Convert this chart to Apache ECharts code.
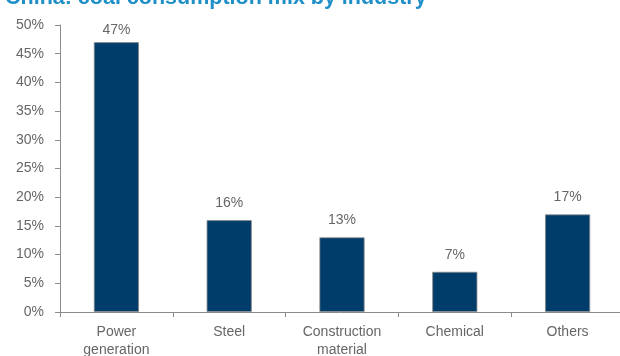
<!DOCTYPE html>
<html>
<head>
<meta charset="utf-8">
<script src="https://cdn.jsdelivr.net/npm/echarts@6/dist/echarts.min.js"></script>
<style>
  html, body { margin: 0; padding: 0; background: #fff; }
  #chart { width: 620px; height: 356px; }
</style>
</head>
<body>
<div id="chart"></div>
<script>
// Share of China's coal consumption by end-use industry (%)
const titleText = 'China: coal consumption mix by industry';
const categories = ['Power\ngeneration', 'Steel', 'Construction\nmaterial', 'Chemical', 'Others'];
const shares = [47, 16, 13, 7, 17];
const yMax = 50;
const yStep = 5;

const font = '"Liberation Sans Narrow", "Arial Narrow", "Liberation Sans", Arial, sans-serif';
const textGrey = '#666666';
const axisGrey = '#8c8c8c';

// the tallest bar sits right under the top of the plot, so its label hugs it
const barData = shares.map((v, i) => (i === 0 ? { value: v, label: { distance: 5 } } : v));

const chart = echarts.init(document.getElementById('chart'), null, { renderer: 'canvas' });
chart.setOption({
  animation: false,
  title: {
    text: titleText,
    left: 0,
    top: -18,
    textStyle: { color: '#1f8fc8', fontSize: 21.5, fontWeight: 'bold', fontFamily: 'Arial, "Liberation Sans", sans-serif' }
  },
  grid: { left: 60, right: -4, top: 25, bottom: 44, containLabel: false, outerBoundsMode: 'none' },
  xAxis: {
    type: 'category',
    data: categories,
    axisLine: { lineStyle: { color: axisGrey, width: 1 } },
    axisTick: { show: true, length: 5, alignWithLabel: false, lineStyle: { color: axisGrey } },
    axisLabel: { color: textGrey, fontSize: 14, fontFamily: font, lineHeight: 18, margin: 11, interval: 0 }
  },
  yAxis: {
    type: 'value',
    min: 0,
    max: yMax,
    interval: yStep,
    axisLine: { show: true, lineStyle: { color: axisGrey, width: 1 } },
    axisTick: { show: true, length: 5, lineStyle: { color: axisGrey } },
    splitLine: { show: false },
    axisLabel: { color: textGrey, fontSize: 14, fontFamily: font, margin: 16, formatter: '{value}%' }
  },
  series: [{
    type: 'bar',
    data: barData,
    barWidth: '40%',
    itemStyle: { color: '#003d6b', borderColor: '#8a8a8a', borderWidth: 0.8 },
    label: {
      show: true,
      position: 'top',
      distance: 10,
      formatter: '{c}%',
      color: textGrey,
      fontSize: 14,
      fontFamily: font
    }
  }]
});
</script>
</body>
</html>
